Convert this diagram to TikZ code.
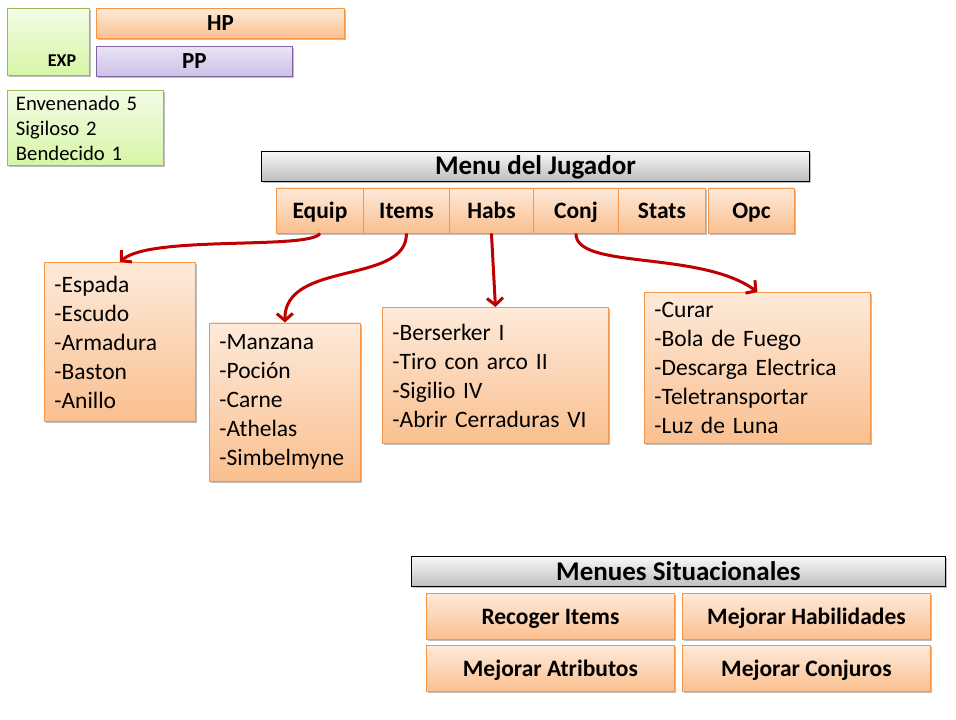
\documentclass[tikz,border=0pt]{standalone}
\usepackage{fontspec}
\setmainfont{Carlito}
\usetikzlibrary{arrows.meta,shadows}
\definecolor{obd}{RGB}{247,150,70}
\definecolor{otop}{RGB}{253,234,218}
\definecolor{obot}{RGB}{250,191,143}
\definecolor{gbd}{RGB}{155,187,89}
\definecolor{gtop}{RGB}{243,252,230}
\definecolor{gbot}{RGB}{214,245,166}
\definecolor{pbd}{RGB}{128,100,162}
\definecolor{ptop}{RGB}{234,228,244}
\definecolor{pbot}{RGB}{204,192,230}
\definecolor{graytop}{RGB}{248,248,248}
\definecolor{graybot}{RGB}{190,190,190}
\definecolor{arrred}{RGB}{192,0,0}
\tikzset{
  box/.style={rectangle, inner sep=0pt, anchor=north west, line width=0.9pt,
    drop shadow={shadow xshift=1.5pt, shadow yshift=-2pt, opacity=0.25, fill=black}},
  oneline/.style={text height=#1, text depth=0pt},
  obox/.style={box, draw=obd, top color=otop, bottom color=obot},
  gbox/.style={box, draw=gbd, top color=gtop, bottom color=gbot},
  pbox/.style={box, draw=pbd, top color=ptop, bottom color=pbot},
  graybar/.style={box, oneline=17.4pt, draw=black, top color=graytop, bottom color=graybot,
    font=\fontsize{27}{30}\selectfont\bfseries},
  tabbox/.style={obox, oneline=15.1pt, minimum width=#1, minimum height=45pt,
    font=\fontsize{23.5}{27}\selectfont\bfseries},
  btnbox/.style={obox, oneline=15.1pt, minimum width=248pt, minimum height=46pt,
    font=\fontsize{23.5}{27}\selectfont\bfseries},
  listbox/.style={obox, align=left, inner xsep=10pt, text width=#1,
    font=\fontsize{23.5}{29}\selectfont},
  conn/.style={draw=arrred, line width=3pt, -{Straight Barb[length=7pt,width=16pt,line width=3pt]}},
}
\begin{document}
\begin{tikzpicture}[x=1pt,y=-1pt]
\useasboundingbox[fill=white] (0,0) rectangle (956,720);
% top-left status boxes
\node[gbox, minimum width=82pt, minimum height=67pt] (exp) at (7,8) {};
\node[oneline=11.6pt, inner sep=0pt, font=\fontsize{18}{20}\selectfont\bfseries] (explbl) at (62,61) {EXP};
\node[obox, oneline=14.8pt, minimum width=248pt, minimum height=30pt, font=\fontsize{23}{26}\selectfont\bfseries] (hp) at (96,8) {HP};
\node[pbox, oneline=14.8pt, minimum width=196pt, minimum height=30pt, font=\fontsize{23}{26}\selectfont\bfseries] (pp) at (96,46) {PP};
\node[gbox, minimum width=156pt, minimum height=75pt, align=left, inner xsep=8.5pt, text width=139pt,
  font=\fontsize{20.7}{25}\selectfont] (status) at (7,90) {Envenenado 5\\Sigiloso 2\\Bendecido 1};
% player menu
\node[graybar, minimum width=548pt, minimum height=30pt] (menu) at (261,150.5) {Menu del Jugador};
\node[tabbox=87pt] (equip) at (276,187.5) {Equip};
\node[tabbox=86pt] (items) at (363,187.5) {Items};
\node[tabbox=84pt] (habs) at (449,187.5) {Habs};
\node[tabbox=85pt] (conj) at (533,187.5) {Conj};
\node[tabbox=87pt] (stats) at (618,187.5) {Stats};
\node[tabbox=86pt] (opc) at (708,187.5) {Opc};
% lists
\node[listbox=131pt, minimum width=151pt, minimum height=159pt] (eqlist) at (44,262)
  {-Espada\\-Escudo\\-Armadura\\-Baston\\-Anillo};
\node[listbox=131pt, minimum width=151pt, minimum height=158pt] (itlist) at (209,322.5)
  {-Manzana\\-Poción\\-Carne\\-Athelas\\-Simbelmyne};
\node[listbox=206pt, minimum width=226pt, minimum height=136pt] (hablist) at (382,307)
  {-Berserker I\\-Tiro con arco II\\-Sigilio IV\\-Abrir Cerraduras VI};
\node[listbox=206pt, minimum width=226pt, minimum height=151pt] (conjlist) at (644,292)
  {-Curar\\-Bola de Fuego\\-Descarga Electrica\\-Teletransportar\\-Luz de Luna};
% connectors
\draw[conn] (equip.south) .. controls (310,250) and (150,235) .. (eqlist.north);
\draw[conn] (items.south) .. controls (407,285) and (284,260) .. (itlist.north);
\draw[conn] (habs.south) -- (hablist.north);
\draw[conn] (conj.south) .. controls (575,270) and (700,250) .. (conjlist.north);
% situational menus
\node[graybar, minimum width=534pt, minimum height=30pt] (sitmenu) at (411,556) {Menues Situacionales};
\node[btnbox] (recoger) at (426,593) {Recoger Items};
\node[btnbox] (mhab) at (682,593) {Mejorar Habilidades};
\node[btnbox] (matr) at (426,645) {Mejorar Atributos};
\node[btnbox] (mconj) at (682,645) {Mejorar Conjuros};
\end{tikzpicture}
\end{document}
